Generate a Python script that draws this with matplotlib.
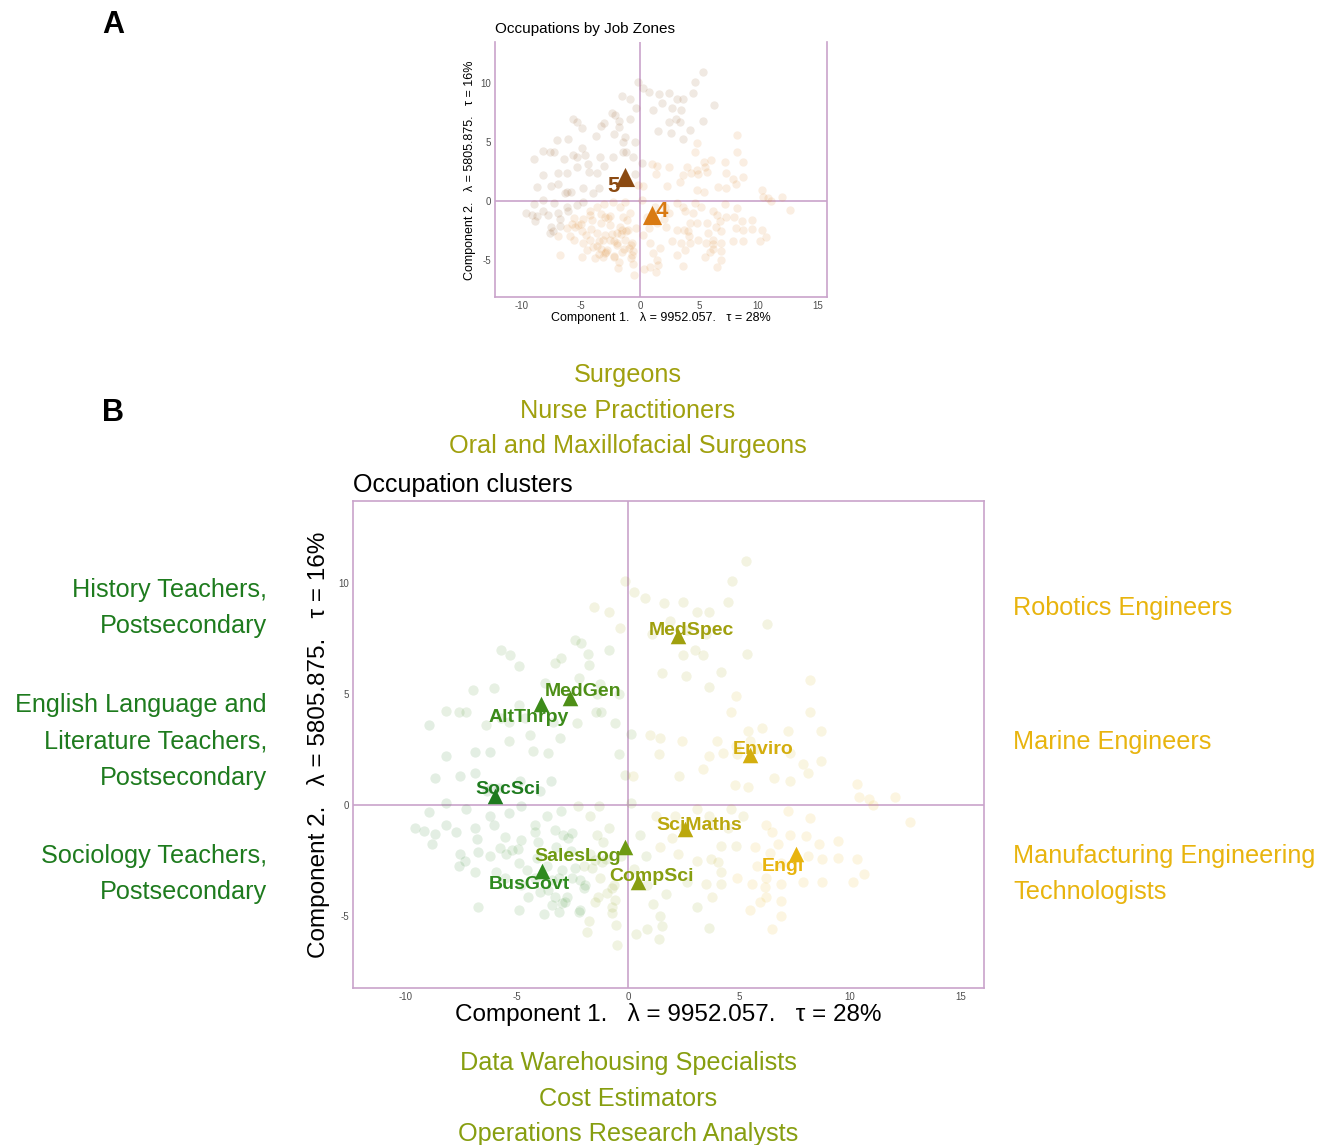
import matplotlib
matplotlib.use("Agg")
import matplotlib.pyplot as plt

plt.rcParams['font.family'] = ['Liberation Sans', 'DejaVu Sans']
plt.rcParams['axes.unicode_minus'] = False

W, H = 1331, 1145

# ---- occupation coordinates on the first two components, grouped by cluster ----
socsci_x = [-8.95, -8.2, -6.9, -6.2, -8.7, -7.55, -6.9, -6.15, -6.35, -5.8, -4.85, -3.95, -3.45,
            -9.6, -8.95, -8.2, -7.75, -8.7, -7.55, -6.9, -6.05, -6.2, -5.35, -4.8, -8.85, -6.75,
            -7.6, -8.2, -7.3, -9.17, -6.8, -7.34]
socsci_y = [3.6, 2.2, 2.4, 2.4, 1.2, 1.3, 1.45, 0.75, 0.65, 0.75, 1.1, 0.65, 1.1,
            -1.05, -0.3, -0.9, -1.2, -1.3, -2.2, -1.05, -0.9, -0.5, -0.35, -0.05, -1.75, -2.1,
            -2.75, 0.1, -0.2, -1.17, -1.53, -2.52]

busgovt_x = [-4.2, -3.65, -3.0, -6.2, -5.5, -4.9, -4.1, -3.25, -2.55, -6.9, -5.95, -5.55, -4.8,
             -3.95, -3.1, -2.75, -1.97, -6.75, -4.9, -3.8, -3.1, -2.2, -4.2, -4.5, -4.2, -2.95, -3.65,
             -5.54, -5.77, -5.24, -4.82, -4.95, -4.56, -4.05, -3.29, -2.99, -3.44, -3.6, -3.29,
             -2.99, -2.54, -2.84, -3.44, -2.16, -2.7, -2.54, -2.16, -2.39, -1.94]
busgovt_y = [-0.9, -0.5, -0.25, -2.3, -2.2, -2.6, -2.4, -1.9, -2.05, -3.0, -3.0, -3.3, -3.6,
             -3.9, -3.3, -4.15, -3.75, -4.6, -4.75, -4.9, -4.8, -4.8, -3.3, -4.15, -1.2, -1.35, -2.75,
             -1.43, -1.94, -2.03, -1.58, -1.98, -2.93, -1.65, -1.13, -2.93, -3.38, -3.83, -4.13,
             -4.42, -3.3, -4.35, -4.5, -4.73, -1.47, -1.26, -3.38, -2.84, -3.6]

altthrpy_x = [-5.7, -5.3, -4.9, -3.75, -6.05, -7.0, -4.9, -8.2, -7.6, -7.3, -6.4, -5.7, -5.35,
              -4.65, -3.4, -5.35, -4.4, -3.05, -4.3, -3.6]
altthrpy_y = [7.0, 6.75, 6.25, 5.5, 5.25, 5.2, 4.5, 4.25, 4.2, 4.2, 3.6, 3.9, 3.75,
              3.9, 3.75, 2.9, 3.15, 3.0, 2.45, 2.35]

medgen_x = [-2.4, -2.1, -0.85, -3.0, -1.8, -3.3, -1.77, -2.2, -1.27, -0.4, -1.4, -2.3, -1.46,
            -1.2, -0.6, 0.14, -0.4]
medgen_y = [7.45, 7.3, 7.0, 6.6, 6.8, 6.4, 6.3, 5.7, 5.45, 5.0, 5.0, 3.7, 4.2,
            4.2, 3.7, 3.2, 2.3]

saleslog_x = [-0.14, -2.25, -1.7, -1.3, -0.85, -1.7, -0.98, -0.3, 0.8, -1.4, -1.97, 0.14, 0.56,
              -1.64, -1.49, -1.19, -1.11]
saleslog_y = [1.35, -0.05, -0.5, -0.05, -1.05, -2.2, -2.45, -2.3, -2.3, -1.35, -2.75, 0.1, -1.35,
              -2.84, -2.48, -2.55, -1.65]

compsci_x = [-1.27, -0.65, 0.28, 0.85, 1.7, 2.68, -0.7, 1.13, 1.46, 3.1, -1.83, -0.56, 0.34,
             0.85, 1.55, 1.4, -0.48, -1.76, -0.96, -0.59, -0.74, -0.74, -1.49, -1.35, 3.65]
compsci_y = [-3.3, -3.6, -2.9, -3.6, -4.0, -3.45, -4.6, -4.45, -5.0, -4.6, -5.7, -5.4, -5.8,
             -5.6, -5.45, -6.05, -6.3, -5.23, -3.98, -4.28, -3.74, -4.87, -4.35, -4.13, -5.53]

medspec_x = [5.3, -0.14, 4.7, 0.28, 0.76, 1.63, 2.5, -1.55, -0.85, 3.1, 3.66, 4.5, 6.25,
             -0.37, 1.9, 1.07, 2.68, 3.5, 3.04, 2.5, 3.4, 5.35, 1.55, 2.6, 4.2, 3.66]
medspec_y = [11.0, 10.1, 10.1, 9.6, 9.3, 9.1, 9.15, 8.9, 8.7, 8.7, 8.7, 9.15, 8.15,
             7.95, 8.3, 7.7, 7.9, 7.7, 7.0, 6.75, 6.75, 6.8, 5.95, 5.8, 6.0, 5.3]

scimaths_x = [1.0, 1.46, 1.4, 0.23, 2.3, 1.27, 2.1, 3.1, 3.66, 4.65, 5.2, 1.46, 2.25,
              3.1, 3.75, 4.2, 4.85, 3.5, 4.2, 3.8, 2.0, 2.5, 3.8, 4.5, 4.04, 4.19]
scimaths_y = [3.15, 3.0, 2.3, 1.3, 1.3, -0.5, -0.5, -0.2, -0.5, -0.2, -0.5, -1.9, -2.2,
              -2.5, -2.45, -1.85, -1.85, -3.55, -3.55, -4.15, -1.5, -1.05, -0.9, -1.05, -2.55, -3.0]

enviro_x = [4.85, 8.2, 4.65, 5.4, 6.05, 8.2, 8.7, 7.2, 2.45, 4.0, 4.85, 5.5, 5.7,
            3.66, 4.3, 4.9, 7.3, 7.9, 8.7, 3.4, 4.8, 5.4, 6.6, 7.3, 8.1]
enviro_y = [4.9, 5.65, 4.2, 3.35, 3.45, 4.2, 3.35, 3.35, 2.9, 2.9, 2.65, 2.9, 2.5,
            2.2, 2.35, 2.3, 2.35, 1.85, 2.0, 1.6, 0.9, 0.8, 1.2, 1.1, 1.45]

engi_x = [10.3, 10.85, 11.05, 12.05, 12.7, 10.4, 6.2, 6.5, 7.2, 8.2, 8.6, 8.0, 9.45,
          5.7, 5.8, 6.9, 8.1, 8.75, 9.45, 10.3, 10.65, 10.15, 8.75, 7.9, 4.9, 5.6,
          6.2, 6.9, 5.5, 6.9, 6.9, 6.5, 6.75, 7.3, 5.95, 6.22, 6.17, 6.4]
engi_y = [0.95, 0.25, 0.0, 0.35, -0.75, 0.35, -0.9, -1.2, -0.25, -0.6, -1.75, -1.4, -1.6,
          -1.9, -2.75, -2.6, -2.3, -2.45, -2.4, -2.45, -3.1, -3.45, -3.45, -3.45, -3.3, -3.55,
          -3.3, -3.55, -4.75, -4.3, -5.0, -5.6, -1.75, -1.35, -4.38, -4.13, -3.68, -2.18]

# ---- cluster summaries ----
cluster_names = ['SocSci', 'BusGovt', 'AltThrpy', 'MedGen', 'SalesLog',
                 'CompSci', 'MedSpec', 'SciMaths', 'Enviro', 'Engi']
centroid_x = [-6.0, -3.87, -3.9, -2.6, -0.14, 0.45, 2.25, 2.57, 5.5, 7.57]
centroid_y = [0.4, -2.97, 4.55, 4.8, -1.9, -3.47, 7.6, -1.1, 2.25, -2.2]
label_x = [-5.4, -4.46, -4.46, -2.03, -2.25, 1.08, 2.84, 3.2, 6.08, 6.98]
label_y = [0.72, -3.56, 3.96, 5.09, -2.34, -3.2, 7.84, -0.9, 2.52, -2.79]
cluster_colors = ['#1E7B1E', '#2E8A1E', '#3C8B1A', '#4E8F17', '#6E9A12',
                  '#879E10', '#A0A00E', '#BBA80E', '#D4AE0E', '#E8B40E']
zone5_clusters = ['SocSci', 'AltThrpy', 'MedGen', 'MedSpec']

cluster_points = {
    'SocSci': (socsci_x, socsci_y), 'BusGovt': (busgovt_x, busgovt_y),
    'AltThrpy': (altthrpy_x, altthrpy_y), 'MedGen': (medgen_x, medgen_y),
    'SalesLog': (saleslog_x, saleslog_y), 'CompSci': (compsci_x, compsci_y),
    'MedSpec': (medspec_x, medspec_y), 'SciMaths': (scimaths_x, scimaths_y),
    'Enviro': (enviro_x, enviro_y), 'Engi': (engi_x, engi_y),
}

# ---- job zones ----
zone_names = ['5', '4']
zone_centroid_x = [-1.27, 0.99]
zone_centroid_y = [2.07, -1.19]
zone_label_x = [-2.25, 1.83]
zone_label_y = [1.2, -0.9]
zone_colors = ['#8B4A12', '#D97A12']

# ---- example occupations around the cluster map ----
top_examples = ['Surgeons', 'Nurse Practitioners', 'Oral and Maxillofacial Surgeons']
bottom_examples = ['Data Warehousing Specialists', 'Cost Estimators', 'Operations Research Analysts']
left_examples = [['History Teachers,', 'Postsecondary'],
                 ['English Language and', 'Literature Teachers,', 'Postsecondary'],
                 ['Sociology Teachers,', 'Postsecondary']]
right_examples = [['Robotics Engineers'], ['Marine Engineers'],
                  ['Manufacturing Engineering', 'Technologists']]

xlab = 'Component 1.   \u03bb = 9952.057.   \u03c4 = 28%'
ylab = 'Component 2.   \u03bb = 5805.875.   \u03c4 = 16%'

FRAME = '#C9A3CB'
TICKC = '#4D4D4D'


def fx(px):
    return px / W


def fy(py):
    return 1 - py / H


def style_axes(ax, xlim, ylim, top=True):
    ax.set_xlim(*xlim)
    ax.set_ylim(*ylim)
    ax.set_xticks([-10, -5, 0, 5, 10, 15])
    ax.set_yticks([-5, 0, 5, 10])
    ax.tick_params(length=0, labelsize=7, labelcolor=TICKC, pad=3)
    for name, sp in ax.spines.items():
        sp.set_color(FRAME)
        sp.set_linewidth(1.2)
    ax.spines['top'].set_visible(top)
    ax.axhline(0, color=FRAME, lw=1.2, zorder=1)
    ax.axvline(0, color=FRAME, lw=1.2, zorder=1)
    ax.set_facecolor('white')


fig = plt.figure(figsize=(W / 100, H / 100), dpi=100)

# ================= Panel A: job zones =================
axA = fig.add_axes([fx(495), fy(297), (827 - 495) / W, (297 - 42) / H])
style_axes(axA, (-12.26, 15.83), (-8.18, 13.53), top=False)
for name in cluster_names:
    xs, ys = cluster_points[name]
    zi = 0 if name in zone5_clusters else 1
    axA.scatter(xs, ys, s=36, color=zone_colors[zi], alpha=0.12, linewidths=0, zorder=2)
for i, z in enumerate(zone_names):
    axA.scatter([zone_centroid_x[i]], [zone_centroid_y[i]], marker='^', s=190,
                color=zone_colors[i], linewidths=0, zorder=4)
    axA.text(zone_label_x[i], zone_label_y[i], z, color=zone_colors[i], fontsize=16,
             fontweight='bold', ha='center', va='center', zorder=5)

fig.text(fx(495), fy(29), 'Occupations by Job Zones', fontsize=11, ha='left', va='center')
fig.text(fx(661), fy(318), xlab, fontsize=9, ha='center', va='center')
fig.text(fx(470), fy(170), ylab, fontsize=9, ha='center', va='center', rotation=90)
fig.text(fx(113), fy(25), 'A', fontsize=22, fontweight='bold', ha='center', va='center')

# ================= Panel B: occupation clusters =================
axB = fig.add_axes([fx(353), fy(988), (984 - 353) / W, (988 - 501) / H])
style_axes(axB, (-12.39, 16.04), (-8.24, 13.69), top=True)
for i, name in enumerate(cluster_names):
    xs, ys = cluster_points[name]
    axB.scatter(xs, ys, s=55, color=cluster_colors[i], alpha=0.12, linewidths=0, zorder=2)
for i, name in enumerate(cluster_names):
    axB.scatter([centroid_x[i]], [centroid_y[i]], marker='^', s=125,
                color=cluster_colors[i], linewidths=0, zorder=4)
    axB.text(label_x[i], label_y[i], name, color=cluster_colors[i], fontsize=14,
             fontweight='bold', ha='center', va='center', zorder=5)

fig.text(fx(353), fy(485), 'Occupation clusters', fontsize=18, ha='left', va='center')
fig.text(fx(668), fy(1015), xlab, fontsize=17.5, ha='center', va='center')
fig.text(fx(319), fy(745), ylab, fontsize=17.5, ha='center', va='center', rotation=90)
fig.text(fx(113), fy(413), 'B', fontsize=22, fontweight='bold', ha='center', va='center')

# example occupations: top (MedSpec), bottom (CompSci), left (SocSci), right (Engi)
pitch = 35.6
for k, t in enumerate(top_examples):
    fig.text(fx(628), fy(375 + k * pitch), t, fontsize=18.2, color=cluster_colors[6],
             ha='center', va='center')
for k, t in enumerate(bottom_examples):
    fig.text(fx(628), fy(1063 + k * pitch), t, fontsize=18.2, color=cluster_colors[5],
             ha='center', va='center')
block_centers = [608, 741.5, 874]
for c, lines in zip(block_centers, left_examples):
    n = len(lines)
    for k, t in enumerate(lines):
        fig.text(fx(267), fy(c + (k - (n - 1) / 2) * 36.5), t, fontsize=18.2,
                 color=cluster_colors[0], ha='right', va='center')
for c, lines in zip(block_centers, right_examples):
    n = len(lines)
    for k, t in enumerate(lines):
        fig.text(fx(1013), fy(c + (k - (n - 1) / 2) * 36.5), t, fontsize=18.2,
                 color=cluster_colors[9], ha='left', va='center')

fig.savefig('out.png', dpi=100, facecolor='white')
